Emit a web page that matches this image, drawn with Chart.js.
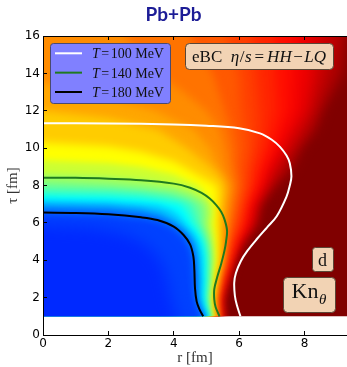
<!DOCTYPE html>
<html lang="en">
<head>
<meta charset="utf-8">
<title>Pb+Pb Kn theta</title>
<script src="https://cdn.jsdelivr.net/npm/chart.js@4.4.1/dist/chart.umd.min.js"></script>
<style>
  html, body { margin: 0; background: #fff; }
  canvas { display: block; }
</style>
</head>
<body>
<canvas id="knChart" width="347" height="367"></canvas>
<script>
// axes
const rTicks = [0, 2, 4, 6, 8];
const tauTicks = [0, 2, 4, 6, 8, 10, 12, 14, 16];
const rMax = 9.3;
const tauStart = 1;   // the map begins at tau = 1 fm
const tauMax = 16;

// isotherms [r, tau] in fm
const temps = [100, 140, 180];
const t100 = [[0, 11.33], [2, 11.32], [4, 11.27], [5, 11.2], [6.0, 11.06], [6.64, 10.79], [7.0, 10.45], [7.25, 10.07], [7.45, 9.6], [7.55, 9.19], [7.6, 8.5], [7.55, 8.0], [7.45, 7.4], [7.15, 6.35], [6.85, 5.75], [6.55, 5.15], [6.25, 4.5], [6.05, 3.95], [5.9, 3.3], [5.85, 2.8], [5.87, 2.1], [5.93, 1.6], [6.04, 1.0]];
const t140 = [[0, 8.42], [1, 8.41], [2, 8.36], [3, 8.28], [4, 8.1], [4.5, 7.88], [4.85, 7.6], [5.1, 7.3], [5.3, 6.95], [5.45, 6.6], [5.55, 6.2], [5.63, 5.6], [5.6, 5.0], [5.55, 4.5], [5.45, 3.8], [5.33, 3.1], [5.24, 2.45], [5.24, 1.9], [5.28, 1.5], [5.4, 1.0]];
const t180 = [[0, 6.55], [1, 6.53], [2, 6.46], [3, 6.3], [3.5, 6.15], [4.0, 5.8], [4.3, 5.35], [4.5, 4.85], [4.6, 4.2], [4.63, 3.5], [4.65, 2.5], [4.7, 1.8], [4.78, 1.4], [4.9, 1.0]];

// Kn_theta map: colour levels (0 blue ... 1 dark red) and where the map crosses each level
const knLevels = [0.18, 0.2, 0.25, 0.3, 0.35, 0.4, 0.45, 0.5, 0.55, 0.6, 0.65, 0.7, 0.725, 0.75, 0.775, 0.8, 0.825, 0.85, 0.875, 0.9, 0.925, 0.95, 0.975];
const kn180 = [[0, 5.9], [1.5, 5.75], [2.5, 5.4], [3.2, 4.8], [3.6, 4.0], [3.8, 3.0], [3.9, 2.0], [4.1, 1]];
const kn200 = [[0, 6.45], [2, 6.37], [3, 6.2], [3.5, 6.05], [3.95, 5.7], [4.25, 5.25], [4.45, 4.7], [4.55, 4.0], [4.58, 3.0], [4.6, 2.2], [4.66, 1.7], [4.82, 1]];
const kn250 = [[0, 6.75], [2, 6.68], [3, 6.52], [3.5, 6.32], [3.85, 6.05], [4.2, 5.65], [4.45, 5.2], [4.58, 4.7], [4.66, 4.0], [4.7, 3.0], [4.7, 2.0], [4.77, 1.5], [4.92, 1]];
const kn300 = [[0, 7.0], [2, 6.93], [3, 6.78], [3.6, 6.55], [4.05, 6.1], [4.4, 5.55], [4.63, 5.0], [4.72, 4.5], [4.76, 4.0], [4.79, 3.0], [4.78, 2.0], [4.84, 1.5], [4.96, 1]];
const kn350 = [[0, 7.2], [2, 7.13], [3, 7.03], [3.5, 6.97], [3.95, 6.7], [4.2, 6.35], [4.35, 6.0], [4.6, 5.5], [4.77, 5.0], [4.85, 4.5], [4.88, 4.0], [4.88, 3.0], [4.86, 2.0], [4.91, 1.5], [5.0, 1]];
const kn400 = [[0, 7.45], [2, 7.4], [3, 7.3], [3.7, 7.15], [4.2, 7.0], [4.4, 6.6], [4.55, 6.0], [4.75, 5.5], [4.88, 5.0], [4.94, 4.5], [4.97, 4.0], [4.96, 3.0], [4.93, 2.0], [4.97, 1.5], [5.04, 1]];
const kn450 = [[0, 7.75], [2, 7.7], [3, 7.6], [3.8, 7.42], [4.3, 7.2], [4.55, 7.0], [4.68, 6.5], [4.75, 6.0], [4.87, 5.5], [4.97, 5.0], [5.02, 4.5], [5.04, 4.0], [5.02, 3.0], [4.98, 2.0], [5.01, 1.5], [5.07, 1]];
const kn500 = [[0, 8.15], [2, 8.0], [3, 7.85], [4, 7.65], [4.5, 7.35], [4.85, 7.0], [4.92, 6.5], [4.9, 6.0], [4.98, 5.5], [5.06, 5.0], [5.1, 4.5], [5.12, 4.0], [5.08, 3.0], [5.03, 2.0], [5.05, 1.5], [5.1, 1]];
const kn550 = [[0, 8.6], [2, 8.47], [3, 8.3], [4, 8.0], [4.5, 7.72], [4.85, 7.38], [5.05, 7.0], [5.1, 6.5], [5.05, 6.0], [5.1, 5.5], [5.15, 5.0], [5.18, 4.5], [5.19, 4.0], [5.13, 3.0], [5.07, 2.0], [5.08, 1.5], [5.13, 1]];
const kn600 = [[0, 9.35], [2, 9.2], [3, 9.0], [4, 8.6], [4.75, 8.0], [5.0, 7.5], [5.2, 7.0], [5.22, 6.5], [5.18, 6.0], [5.22, 5.5], [5.24, 5.0], [5.26, 4.0], [5.18, 3.0], [5.11, 2.0], [5.12, 1.5], [5.16, 1]];
const kn650 = [[0, 10.3], [2, 10.1], [3, 9.8], [4, 9.3], [4.3, 9.0], [4.8, 8.5], [5.3, 8.0], [5.35, 7.5], [5.32, 7.0], [5.32, 6.5], [5.3, 6.0], [5.33, 5.0], [5.33, 4.0], [5.23, 3.0], [5.14, 2.0], [5.15, 1.5], [5.19, 1]];
const kn700 = [[0, 12.0], [2, 11.6], [3.5, 11.0], [4.4, 10.0], [5.1, 9.0], [5.4, 8.5], [5.55, 8.0], [5.52, 7.5], [5.48, 7.0], [5.45, 6.5], [5.43, 6.0], [5.43, 5.0], [5.4, 4.0], [5.28, 3.0], [5.18, 2.0], [5.19, 1.5], [5.22, 1]];
const kn725 = [[0, 13.5], [2, 12.7], [3.4, 12.0], [4.6, 11.0], [5.1, 10.0], [5.35, 9.0], [5.5, 8.5], [5.65, 8.0], [5.62, 7.5], [5.58, 7.0], [5.55, 6.5], [5.52, 6.0], [5.48, 5.0], [5.44, 4.0], [5.3, 3.0], [5.2, 2.0], [5.21, 1.5], [5.24, 1]];
const kn750 = [[2.5, 16], [3.5, 14], [4.3, 13], [5.0, 12], [5.4, 11], [5.55, 10], [5.65, 9], [5.8, 8], [5.75, 7.5], [5.7, 7], [5.62, 6], [5.54, 5], [5.47, 4], [5.33, 3], [5.22, 2], [5.23, 1.5], [5.26, 1]];
const kn775 = [[4.5, 16], [5.2, 14], [5.55, 12], [5.75, 11], [5.85, 10], [5.85, 9], [5.95, 8], [5.85, 7], [5.72, 6], [5.6, 5], [5.51, 4], [5.36, 3], [5.24, 2], [5.25, 1.5], [5.28, 1]];
const kn800 = [[5.6, 16], [6.0, 14], [6.05, 12], [6.15, 11], [6.2, 10], [6.1, 9], [6.1, 8], [5.97, 7], [5.85, 6], [5.67, 5], [5.55, 4], [5.39, 3], [5.26, 2], [5.27, 1.5], [5.3, 1]];
const kn825 = [[6.4, 16], [6.5, 14], [6.6, 12], [6.6, 11], [6.5, 10], [6.35, 9], [6.27, 8], [6.07, 7], [5.97, 6], [5.74, 5], [5.59, 4], [5.42, 3], [5.28, 2], [5.29, 1.5], [5.32, 1]];
const kn850 = [[7.1, 16], [7.1, 14], [7.15, 12], [7.0, 11], [6.85, 10], [6.6, 9], [6.45, 8], [6.2, 7], [6.08, 6], [5.8, 5], [5.63, 4], [5.45, 3], [5.3, 2], [5.31, 1.5], [5.34, 1]];
const kn875 = [[7.7, 16], [7.65, 14], [7.6, 12], [7.35, 11], [7.1, 10], [6.8, 9], [6.6, 8], [6.3, 7], [6.2, 6], [5.87, 5], [5.67, 4], [5.48, 3], [5.32, 2], [5.33, 1.5], [5.36, 1]];
const kn900 = [[8.15, 16], [8.15, 14], [7.95, 12], [7.6, 11], [7.3, 10], [6.95, 9], [6.7, 8], [6.4, 7], [6.3, 6], [5.93, 5], [5.7, 4], [5.51, 3], [5.34, 2], [5.35, 1.5], [5.38, 1]];
const kn925 = [[8.6, 16], [8.45, 14], [8.15, 12], [7.85, 11], [7.5, 10], [7.15, 9], [6.82, 8], [6.48, 7], [6.38, 6], [5.99, 5], [5.73, 4], [5.54, 3], [5.36, 2], [5.37, 1.5], [5.4, 1]];
const kn950 = [[9.05, 16], [8.8, 14], [8.35, 12], [8.1, 11], [7.7, 10], [7.4, 9], [6.95, 8], [6.56, 7], [6.45, 6], [6.05, 5], [5.76, 4], [5.57, 3], [5.39, 2], [5.4, 1.5], [5.43, 1]];
const kn975 = [[9.28, 16], [9.2, 14], [8.55, 12], [8.35, 11], [7.9, 10], [7.65, 9], [7.1, 8], [6.67, 7], [6.55, 6], [6.12, 5], [5.8, 4], [5.61, 3], [5.43, 2], [5.44, 1.5], [5.47, 1]];
const knLines = [kn180, kn200, kn250, kn300, kn350, kn400, kn450, kn500, kn550, kn600, kn650, kn700, kn725, kn750, kn775, kn800, kn825, kn850, kn875, kn900, kn925, kn950, kn975];

// jet colour map
const jetStops = [[0, 0, 0, 128], [0.125, 0, 0, 255], [0.375, 0, 255, 255], [0.625, 255, 255, 0], [0.875, 255, 0, 0], [1, 128, 0, 0]];

function jet(v) {
    for (let i = 1; i < jetStops.length; i++) {
        const a = jetStops[i - 1];
        const b = jetStops[i];
        if (v <= b[0]) {
            const f = (v - a[0]) / (b[0] - a[0]);
            const c = [1, 2, 3].map(k => Math.round(a[k] + f * (b[k] - a[k])));
            return "rgb(" + c.join(",") + ")";
        }
    }
    return "rgb(128,0,0)";
}

function toXY(line) {
    return line.map(p => ({ x: p[0], y: p[1] }));
}

// area where the map is below a level: the level line closed round the lower left corner,
// pushed a little past the edges so the soft edge falls outside the plot
function regionBelow(line) {
    const first = line[0];
    const last = line[line.length - 1];
    const fromTop = first[1] >= tauMax;
    const pts = [fromTop ? [first[0], tauMax + 1] : [-1, first[1]]];
    line.forEach(p => pts.push(p));
    pts.push([last[0], tauStart - 1]);
    pts.push([-1, tauStart - 1]);
    if (fromTop) pts.push([-1, tauMax + 1]);
    return toXY(pts);
}

const isoColors = ["#ffffff", "#1f7a1f", "#000000"];
const isoLines = [t100, t140, t180];

const datasets = isoLines.map((line, i) => ({
    label: "T=" + temps[i] + " MeV",
    data: toXY(line),
    showLine: true,
    fill: false,
    borderColor: isoColors[i],
    borderWidth: 2,
    pointRadius: 0,
    tension: 0.35
}));

const firstMap = datasets.length;

knLines.forEach((line, i) => {
    const lo = i === 0 ? 0.15 : knLevels[i - 1];
    datasets.push({
        data: regionBelow(line),
        showLine: true,
        fill: "shape",
        borderWidth: 0,
        pointRadius: 0,
        backgroundColor: jet((lo + knLevels[i]) / 2)
    });
});

datasets.push({
    data: toXY([[-1, tauStart - 1], [rMax + 1, tauStart - 1], [rMax + 1, tauMax + 1], [-1, tauMax + 1]]),
    showLine: true,
    fill: "shape",
    borderWidth: 0,
    pointRadius: 0,
    backgroundColor: jet(1)
});

const lastMap = datasets.length - 1;

// softer edges for the wide red bands, sharper ones near the cold core
function blurFor(index) {
    const level = index - firstMap < knLevels.length ? knLevels[index - firstMap] : 1;
    if (level < 0.19) return "blur(8px)";
    if (level >= 0.8) return "blur(6px)";
    if (level >= 0.65) return "blur(4px)";
    return "blur(3px)";
}

// blur the colour bands, only inside the map area
// (the filler paints a dataset before this plugin sees it, so the filter is set one dataset ahead)
const softMap = {
    id: "softMap",
    beforeDatasetsDraw(chart) {
        const { ctx, scales } = chart;
        const x0 = scales.x.getPixelForValue(0);
        const x1 = scales.x.getPixelForValue(rMax);
        const y0 = scales.y.getPixelForValue(tauMax);
        const y1 = scales.y.getPixelForValue(tauStart);
        ctx.save();
        ctx.beginPath();
        ctx.rect(x0, y0, x1 - x0, y1 - y0);
        ctx.clip();
        ctx.filter = blurFor(lastMap);
    },
    afterDatasetDraw(chart, args) {
        if (args.index === firstMap) chart.ctx.restore();
        else if (args.index > firstMap) chart.ctx.filter = blurFor(args.index - 1);
    }
};

function box(ctx, x, y, w, h, r, fill, stroke) {
    x += 0.5; y += 0.5;
    ctx.beginPath();
    ctx.moveTo(x + r, y);
    ctx.arcTo(x + w, y, x + w, y + h, r);
    ctx.arcTo(x + w, y + h, x, y + h, r);
    ctx.arcTo(x, y + h, x, y, r);
    ctx.arcTo(x, y, x + w, y, r);
    ctx.closePath();
    ctx.fillStyle = fill;
    ctx.fill();
    ctx.lineWidth = 1;
    ctx.strokeStyle = stroke;
    ctx.stroke();
}

// parts: [text, italic, gap after]
function mathWidth(ctx, size, parts) {
    let w = 0;
    parts.forEach(([t, it, gap]) => {
        ctx.font = (it ? "italic " : "") + size + "px 'Liberation Serif'";
        w += ctx.measureText(t).width + gap;
    });
    return w;
}

function mathText(ctx, x, y, size, parts) {
    parts.forEach(([t, it, gap]) => {
        ctx.font = (it ? "italic " : "") + size + "px 'Liberation Serif'";
        ctx.fillText(t, x, y);
        x += ctx.measureText(t).width + gap;
    });
    return x;
}

const overlays = {
    id: "overlays",
    afterDraw(chart) {
        const { ctx, chartArea: a } = chart;
        ctx.save();
        ctx.textBaseline = "alphabetic";
        ctx.textAlign = "left";

        box(ctx, a.left + 7, a.top + 7, 120, 60, 3, "#8080ff", "#4a4a70");
        isoColors.forEach((c, i) => {
            const y = a.top + 17.3 + i * 19.35;
            ctx.strokeStyle = c;
            ctx.lineWidth = 2;
            ctx.beginPath();
            ctx.moveTo(a.left + 12, y);
            ctx.lineTo(a.left + 39, y);
            ctx.stroke();
            ctx.fillStyle = "#111";
            mathText(ctx, a.left + 49, y + 5, 14, [["T", true, 1.5], ["=", false, 1.5], [temps[i] + " MeV", false, 0]]);
        });

        box(ctx, a.left + 142, a.top + 7, 148, 26, 4, "#f2d3b4", "#5a4636");
        const eta = [["eBC", false, 8.5], ["\u03b7", true, 0.5], ["/", false, 0.5], ["s", true, 3], ["=", false, 3], ["HH", true, 1.5], ["\u2212", false, 1.5], ["LQ", true, 0]];
        ctx.fillStyle = "#111";
        mathText(ctx, a.left + 216 - mathWidth(ctx, 17, eta) / 2, a.top + 25.5, 17, eta);

        box(ctx, a.left + 269, a.top + 211, 21, 24, 3, "#f2d3b4", "#5a4636");
        ctx.fillStyle = "#111";
        const dw = mathWidth(ctx, 18, [["d", false, 0]]);
        mathText(ctx, a.left + 279.5 - dw / 2, a.top + 230, 18, [["d", false, 0]]);

        box(ctx, a.left + 240, a.top + 241, 52, 35, 4, "#f2d3b4", "#5a4636");
        ctx.fillStyle = "#111";
        const kx = mathText(ctx, a.left + 248.5, a.top + 262.3, 22, [["Kn", false, 0.5]]);
        mathText(ctx, kx, a.top + 268, 15, [["\u03b8", true, 0]]);
        ctx.restore();
    }
};

const tickFont = { family: "DejaVu Sans", size: 12 };

new Chart(document.getElementById("knChart"), {
    type: "scatter",
    data: { datasets: datasets },
    options: {
        responsive: false,
        animation: false,
        events: [],
        layout: { padding: 0 },
        plugins: {
            legend: { display: false },
            tooltip: { enabled: false },
            title: {
                display: true,
                text: "Pb+Pb",
                color: "#1c1c96",
                font: { family: "Lato", size: 19, weight: "bold" },
                padding: { top: 3.6, bottom: 9.6 }
            }
        },
        scales: {
            x: {
                type: "linear",
                position: "bottom",
                min: 0,
                max: rMax,
                afterBuildTicks: s => { s.ticks = rTicks.map(v => ({ value: v })); },
                afterFit: s => { s.height = 32; },
                ticks: { padding: 5.8, color: "#000", font: tickFont, z: 1 },
                grid: { drawOnChartArea: false, tickLength: -4, tickColor: "#000", z: 1 },
                border: { color: "#000", z: 1 },
                title: {
                    display: true,
                    text: "r [fm]",
                    color: "#333",
                    font: { family: "Liberation Serif", size: 15 },
                    padding: { top: 0, bottom: 0 }
                }
            },
            xTop: {
                type: "linear",
                position: "top",
                min: 0,
                max: rMax,
                afterBuildTicks: s => { s.ticks = rTicks.map(v => ({ value: v })); },
                afterFit: s => { s.height = 0; },
                ticks: { display: false },
                grid: { drawOnChartArea: false, tickLength: -4, tickColor: "#000", z: 1 },
                border: { color: "#000", z: 1 }
            },
            y: {
                type: "linear",
                position: "left",
                min: 0,
                max: tauMax,
                afterBuildTicks: s => { s.ticks = tauTicks.map(v => ({ value: v })); },
                afterFit: s => { s.width = 43; },
                ticks: { padding: 7, color: "#000", font: tickFont, z: 1 },
                grid: { drawOnChartArea: false, tickLength: -4, tickColor: "#000", z: 1 },
                border: { color: "#000", z: 1 },
                title: {
                    display: true,
                    text: "\u03c4 [fm]",
                    color: "#333",
                    font: { family: "Liberation Serif", size: 15 },
                    padding: { top: 4.5, bottom: 0 }
                }
            }
        }
    },
    plugins: [softMap, overlays]
});
</script>
</body>
</html>
